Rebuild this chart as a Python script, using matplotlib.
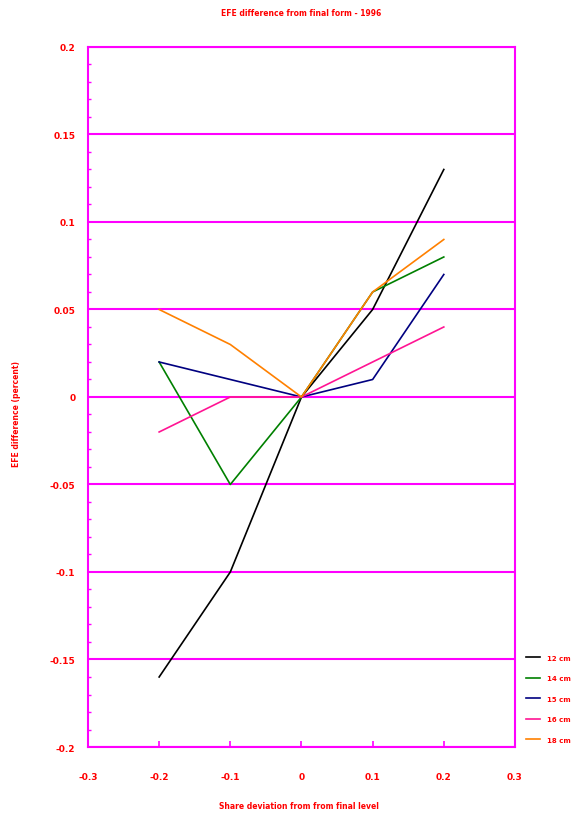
import numpy as np
import matplotlib
matplotlib.use("Agg")
import matplotlib.pyplot as plt
from matplotlib.ticker import MultipleLocator

#%% data
x = [-0.2, -0.1, 0.0, 0.1, 0.2]
s12 = [-0.16, -0.10, 0.0, 0.05, 0.13]
s14 = [0.02, -0.05, 0.0, 0.06, 0.08]
s15 = [0.02, 0.01, 0.0, 0.01, 0.07]
s16 = [-0.02, 0.0, 0.0, 0.02, 0.04]
s18 = [0.05, 0.03, 0.0, 0.06, 0.09]

names = ["12 cm", "14 cm", "15 cm", "16 cm", "18 cm"]
colors = ["black", "#008000", "#000080", "#ff1493", "#ff8000"]

xticks = [-0.3, -0.2, -0.1, 0, 0.1, 0.2, 0.3]
yticks = [-0.2, -0.15, -0.1, -0.05, 0, 0.05, 0.1, 0.15, 0.2]

red = "#ff0000"
mag = "#ff00ff"
fnt = dict(family=["Liberation Sans Narrow", "DejaVu Sans"], weight="bold", color=red)

#%% plot
fig = plt.figure(figsize=(5.72, 8.2), dpi=100)
ax = fig.add_axes([0.1538, 0.0878, 0.9003 - 0.1538, 0.9415 - 0.0878])

for ys, c, n in zip([s12, s14, s15, s16, s18], colors, names):
    ax.plot(x, ys, color=c, lw=1.2, label=n, zorder=3)

for yv in yticks:
    ax.axhline(yv, color=mag, lw=1.5, zorder=1)

ax.set_xlim(-0.3, 0.3)
ax.set_ylim(-0.2, 0.2)
ax.set_xticks(xticks)
ax.set_yticks(yticks)
ax.yaxis.set_minor_locator(MultipleLocator(0.01))
ax.set_xticklabels(["%g" % v for v in xticks], **fnt, fontsize=6.5)
ax.set_yticklabels(["%g" % v for v in yticks], **fnt, fontsize=6.5)
ax.tick_params(axis="both", which="major", direction="in", length=4, width=1.2,
               color=mag, pad=9)
ax.tick_params(axis="y", which="minor", direction="in", length=2, width=1, color=mag)
ax.tick_params(axis="x", pad=18)
for sp in ax.spines.values():
    sp.set_color(mag)
    sp.set_linewidth(1.5)

fig.text(0.527, 0.983, "EFE difference from final form - 1996", ha="center", va="center",
         fontsize=5.5, **fnt)
fig.text(0.523, 0.016, "Share deviation from from final level", ha="center", va="center",
         fontsize=5.5, **fnt)
fig.text(0.029, 0.495, "EFE difference (percent)", ha="center", va="center",
         rotation=90, fontsize=5.5, **fnt)

leg = ax.legend(loc="center left", bbox_to_anchor=(1.0, 0.069), frameon=False,
                handlelength=2.0, handletextpad=1.0, labelspacing=2.1,
                borderaxespad=1.2, prop=dict(family="Liberation Sans Narrow", weight="bold", size=5))
for t in leg.get_texts():
    t.set_color(red)

fig.savefig("out.png", dpi=100)
